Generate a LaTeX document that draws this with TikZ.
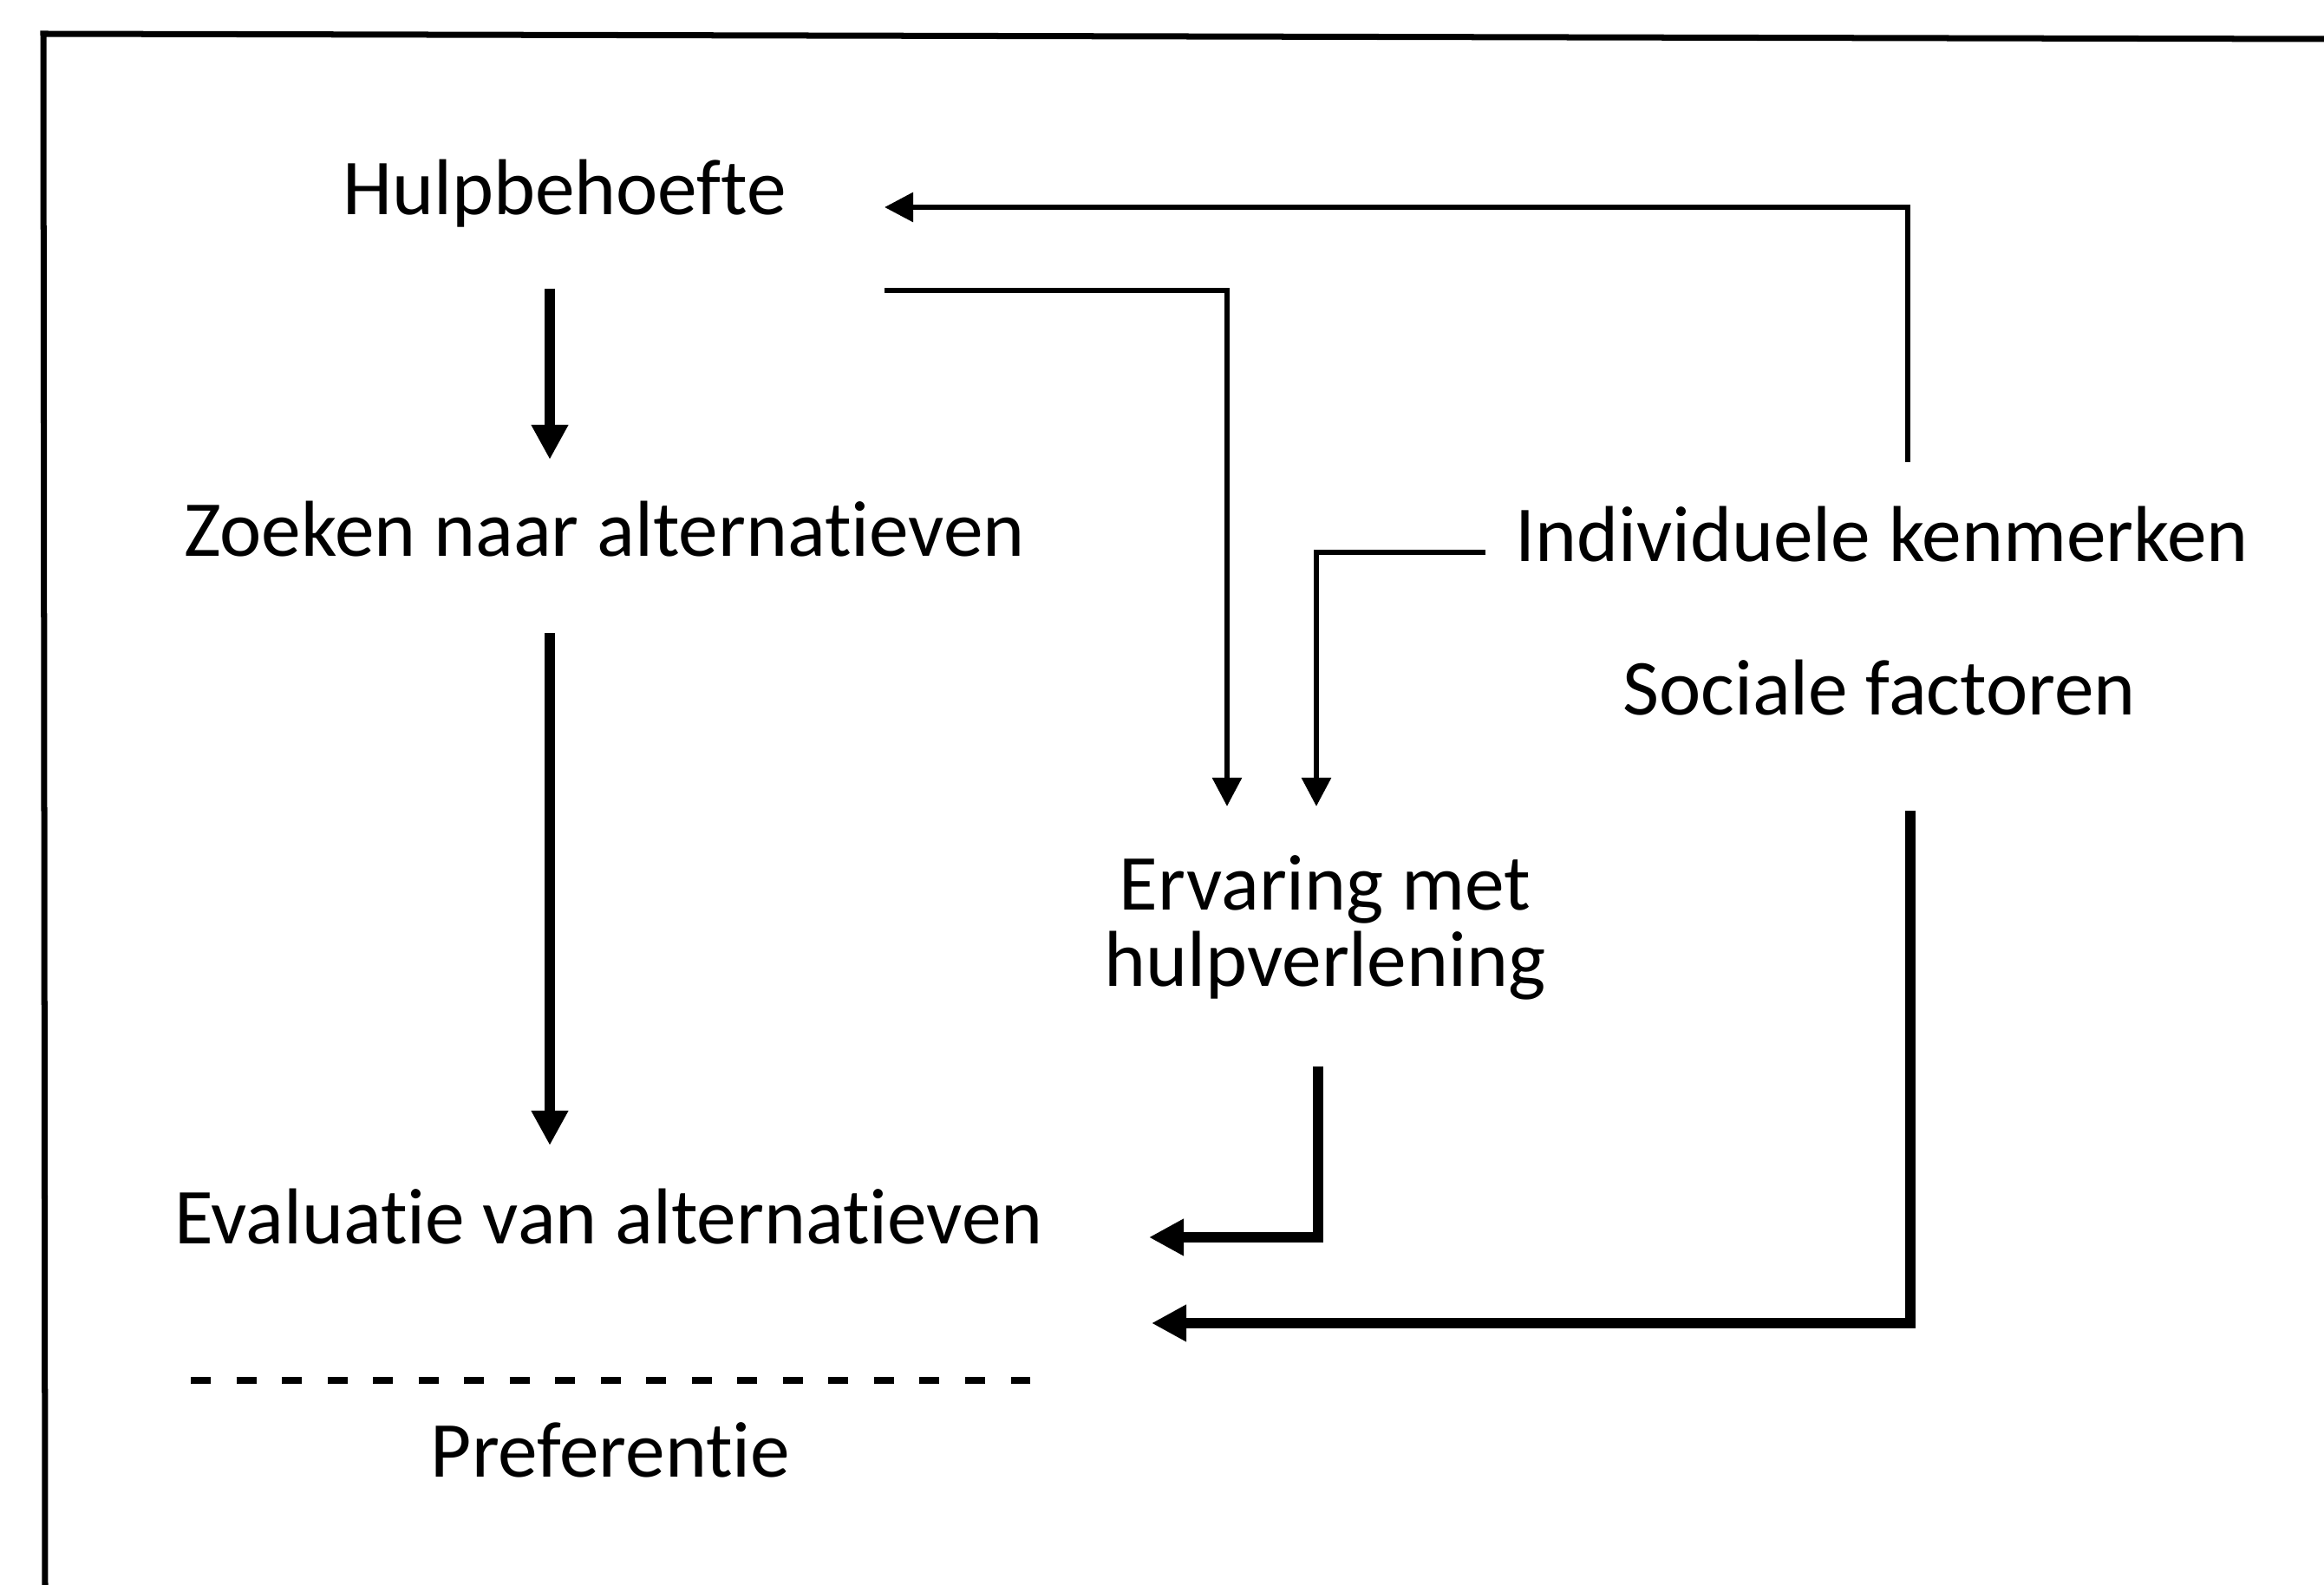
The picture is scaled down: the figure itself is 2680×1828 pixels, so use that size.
\documentclass[tikz,border=0pt]{standalone}
\usepackage{fontspec}
\setmainfont{Carlito}[Ligatures=NoCommon]
\usetikzlibrary{arrows.meta,calc}

\begin{document}
\begin{tikzpicture}[x=0.01cm,y=-0.01cm,
	txt/.style={inner sep=0pt,anchor=base,font=\fontsize{26pt}{25pt}\selectfont},
	thickarrow/.style={line width=0.12cm,-{Triangle[length=0.4cm,width=0.4cm]}},
	thinarrow/.style={line width=0.06cm,-{Triangle[length=0.33cm,width=0.33cm]}}]
	\useasboundingbox (0,0) rectangle (2680,1828);
	\draw[line width=0.07cm] (52,1828) -- (50,39) -- (2680,45);
	\node[txt] (hulp) at (651,248) {Hulpbehoefte};
	\node[txt] (zoek) at (697,642) {Zoeken naar alternatieven};
	\node[txt] (eval) at (702,1435) {Evaluatie van alternatieven};
	\node[txt] (pref) at (704,1703) {Preferentie};
	\node[txt] (indiv) at (2170,648) {Individuele kenmerken};
	\node[txt] (soc) at (2167,825) {Sociale factoren};
	\node[txt,anchor=center,align=center] (erv) at (1528,1070) {Ervaring met\\hulpverlening};
	\draw[line width=0.07cm,dash pattern=on 0.23cm off 0.295cm] (220,1592) -- (1188,1592);
	\draw[thickarrow] ($(hulp.base)+(-17,85)$) -- ($(zoek.base)+(-63,-112)$);
	\draw[thickarrow] ($(zoek.base)+(-63,88)$) -- ($(eval.base)+(-68,-114)$);
	\draw[thinarrow] ($(indiv.base)+(30,-115)$) |- ($(hulp.base)+(369,-9)$);
	\draw[thinarrow] ($(hulp.base)+(369,87)$) -| ($(erv.center)+(-113,-140)$);
	\draw[thinarrow] ($(indiv.base)+(-457,-11)$) -| ($(erv.center)+(-10,-140)$);
	\draw[thickarrow] ($(erv.center)+(-8,160)$) |- ($(eval.base)+(623,-8)$);
	\draw[thickarrow] ($(soc.base)+(36,110)$) |- ($(eval.base)+(626,91)$);
\end{tikzpicture}
\end{document}
